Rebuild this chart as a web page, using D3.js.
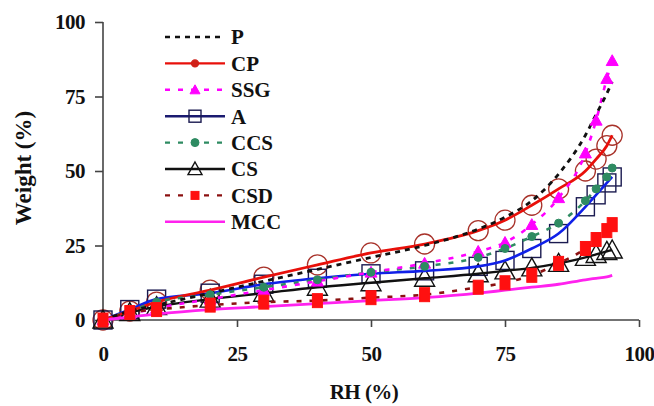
<!DOCTYPE html>
<html>
<head>
<meta charset="utf-8">
<script src="https://cdn.jsdelivr.net/npm/d3@7"></script>
<style>
  html, body { margin: 0; padding: 0; background: #fff; }
  svg text { font-family: "Liberation Serif", "Times New Roman", serif; font-weight: bold; fill: #111; }
</style>
</head>
<body>
<svg id="chart" width="654" height="406"></svg>
<script>
// ─── Data ────────────────────────────────────────────────
const rh = [0, 5, 10, 20, 30, 40, 50, 60, 70, 75, 80, 85, 90, 92, 94, 95];

const P   = [0, 3, 5, 9, 13, 17, 21, 25, 30.5, 34.5, 40, 49, 62, 69, 76, 80];
const CP  = [0, 3, 6, 10, 14.4, 18.5, 22.5, 25.5, 30, 33.5, 38.5, 44, 50, 54, 58.5, 62];
const SSG = [0, 2, 4, 7, 10, 13, 16, 19, 23, 26, 32, 41, 56, 67, 81, 87];
const A   = [0, 3.5, 7, 9, 12, 14, 15.5, 16.5, 18, 20, 24, 29, 38, 42, 46, 48];
const CCS = [0, 3, 6, 8.5, 11, 13.5, 16, 18, 21, 24, 28, 32.5, 40, 44, 48, 51];
const CS  = [0, 2.5, 4.5, 7, 9, 11, 12.5, 14, 15.5, 16.5, 17.5, 19, 21, 22, 23, 23.5];
const CSD = [0, 2.5, 3.5, 5, 6, 6.5, 7.5, 8.5, 11, 12.5, 15, 19, 24, 27, 30, 32];
const MCC = [0, 1, 2, 3.5, 4.5, 5.5, 6.5, 7.5, 9, 10, 11, 12, 13.5, 14, 14.5, 15];

const xTicks = [0, 25, 50, 75, 100];
const yTicks = [0, 25, 50, 75, 100];

// ─── Series styles ───────────────────────────────────────
const series = [
  { name: 'P',   values: P,   line: '#111', dash: '5,5', width: 2.8, marker: null },
  { name: 'CP',  values: CP,  line: '#e8100a', dash: null, width: 2.8, marker: 'circle', mStroke: '#a8322a', mFill: 'none', legendFill: '#d02018' },
  { name: 'SSG', values: SSG, line: '#ff00ff', dash: '5,8', width: 2.6, marker: 'triangle', mStroke: '#ff00ff', mFill: '#ff00ff' },
  { name: 'A',   values: A,   line: '#1020e8', dash: null, width: 2.6, marker: 'square', mStroke: '#1a1a50', mFill: 'none', legendLine: '#1a1a70' },
  { name: 'CCS', values: CCS, line: '#2e8b62', dash: '5,8', width: 2.6, marker: 'dot', mStroke: '#2e8b62', mFill: '#2e8b62' },
  { name: 'CS',  values: CS,  line: '#111', dash: null, width: 2.4, marker: 'opentri', mStroke: '#111', mFill: 'none' },
  { name: 'CSD', values: CSD, line: '#8b1010', dash: '5,8', width: 2.6, marker: 'redsq', mStroke: '#ff1010', mFill: '#ff1010' },
  { name: 'MCC', values: MCC, line: '#ff22ee', dash: null, width: 2.8, marker: null },
];

// ─── Scales & axes ───────────────────────────────────────
const svg = d3.select('#chart');
const x = d3.scaleLinear().domain([0, 100]).range([103, 639]);
const y = d3.scaleLinear().domain([0, 100]).range([320, 22]);

const axisColor = '#444';

const gx = svg.append('g').attr('transform', `translate(0,${y(0)})`)
  .call(d3.axisBottom(x).tickValues(xTicks).tickSize(7).tickPadding(19).tickFormat(d3.format('d')));
const gy = svg.append('g').attr('transform', `translate(${x(0)},0)`)
  .call(d3.axisLeft(y).tickValues(yTicks).tickSize(8).tickPadding(10).tickFormat(d3.format('d')));

[gx, gy].forEach(g => {
  g.select('.domain').attr('stroke', axisColor).attr('stroke-width', 1.6);
  g.selectAll('.tick line').attr('stroke', axisColor).attr('stroke-width', 1.6);
  g.selectAll('.tick text').attr('font-size', 21).attr('font-family', '"Liberation Serif", serif')
    .attr('font-weight', 'bold').attr('fill', '#111').attr('letter-spacing', -0.5);
});
gx.select('.domain').attr('d', `M${x(0)},0H${x(100)}`);
gy.select('.domain').attr('d', `M0,${y(0)}V${y(100)}`);

svg.append('text').attr('x', 364).attr('y', 399).attr('text-anchor', 'middle')
  .attr('font-size', 21).attr('letter-spacing', -0.5).text('RH (%)');
svg.append('text').attr('transform', 'translate(31,168) rotate(-90)').attr('text-anchor', 'middle')
  .attr('font-size', 23).text('Weight (%)');

// ─── Markers ─────────────────────────────────────────────
function drawMarker(g, type, cx, cy, stroke, fill, big) {
  if (type === 'circle') {
    g.append('circle').attr('cx', cx).attr('cy', cy).attr('r', big ? 10 : 3.5)
      .attr('fill', big ? 'none' : fill).attr('stroke', stroke).attr('stroke-width', 1.3);
  } else if (type === 'triangle') {
    const s = big ? 6 : 5;
    g.append('path').attr('d', `M${cx},${cy - s}L${cx + s},${cy + s * 0.8}L${cx - s},${cy + s * 0.8}Z`)
      .attr('fill', fill).attr('stroke', stroke).attr('stroke-width', 1);
  } else if (type === 'square') {
    const s = big ? 9 : 6;
    g.append('rect').attr('x', cx - s).attr('y', cy - s).attr('width', 2 * s).attr('height', 2 * s)
      .attr('fill', 'none').attr('stroke', stroke).attr('stroke-width', 1.4);
  } else if (type === 'dot') {
    g.append('circle').attr('cx', cx).attr('cy', cy).attr('r', 4)
      .attr('fill', fill).attr('stroke', stroke);
  } else if (type === 'opentri') {
    const s = big ? 10 : 7;
    g.append('path').attr('d', `M${cx},${cy - s}L${cx + s},${cy + s * 0.8}L${cx - s},${cy + s * 0.8}Z`)
      .attr('fill', 'none').attr('stroke', stroke).attr('stroke-width', 1.4);
  } else if (type === 'redsq') {
    const w = big ? 5 : 4, h = big ? 7 : 4;
    g.append('rect').attr('x', cx - w).attr('y', cy - h).attr('width', 2 * w).attr('height', 2 * h)
      .attr('fill', fill).attr('stroke', stroke);
  }
}

// ─── Plot ────────────────────────────────────────────────
const line = d3.line().x(d => x(d[0])).y(d => y(d[1])).curve(d3.curveMonotoneX);
const plot = svg.append('g');

// open markers sit behind the lines, filled ones on top
const order = ['A', 'CS', 'CP', 'CCS', 'SSG', 'CSD', 'P', 'MCC'];
series.filter(s => ['square', 'opentri', 'circle'].includes(s.marker)).forEach(s => {
  const g = plot.append('g');
  s.values.forEach((v, i) => drawMarker(g, s.marker, x(rh[i]), y(v), s.mStroke, s.mFill, true));
});

order.forEach(name => {
  const s = series.find(d => d.name === name);
  const pts = rh.map((r, i) => [r, s.values[i]]);
  plot.append('path').attr('d', line(pts)).attr('fill', 'none')
    .attr('stroke', s.line).attr('stroke-width', s.width)
    .attr('stroke-dasharray', s.dash);
});

series.filter(s => ['triangle', 'dot', 'redsq'].includes(s.marker)).forEach(s => {
  const g = plot.append('g');
  s.values.forEach((v, i) => drawMarker(g, s.marker, x(rh[i]), y(v), s.mStroke, s.mFill, true));
});

// ─── Legend ──────────────────────────────────────────────
const legend = svg.append('g');
series.forEach((s, i) => {
  const ly = 37 + i * 26.4;
  legend.append('line').attr('x1', 165).attr('x2', 225).attr('y1', ly).attr('y2', ly)
    .attr('stroke', s.legendLine || s.line).attr('stroke-width', 2.4)
    .attr('stroke-dasharray', s.dash);
  if (s.marker) drawMarker(legend, s.marker, 195, ly, s.legendFill || s.mStroke, s.legendFill || s.mFill, false);
  legend.append('text').attr('x', 231).attr('y', ly).attr('dy', '0.35em')
    .attr('font-size', 21).text(s.name);
});
</script>
</body>
</html>
